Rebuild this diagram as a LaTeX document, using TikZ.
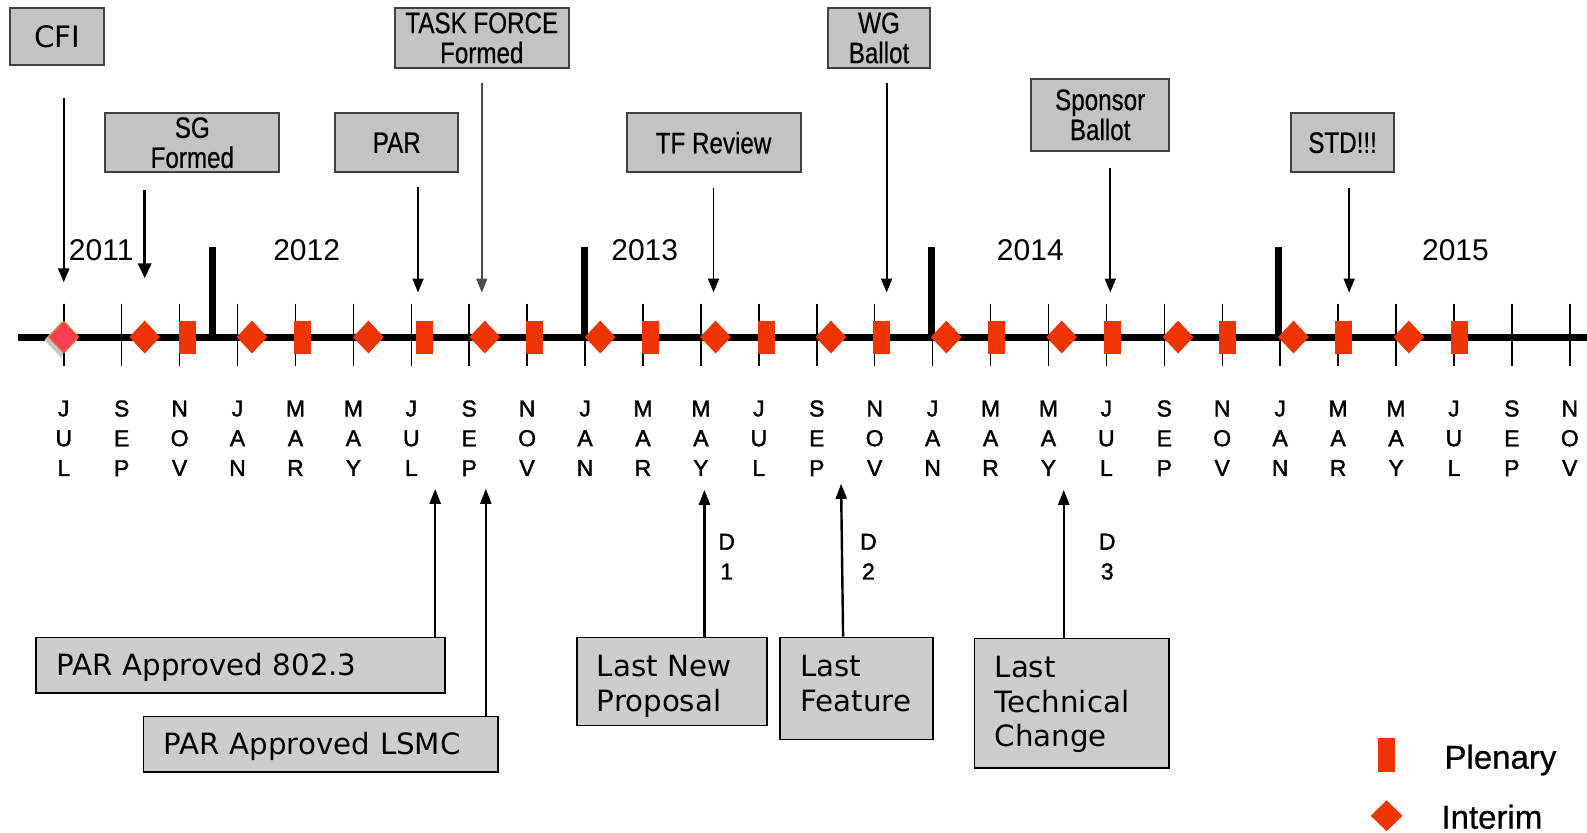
\documentclass[tikz,border=0pt]{standalone}
\usepackage{fontspec}
\setmainfont{Liberation Sans}
\newfontfamily\narrowfont[FakeStretch=0.82,FakeBold=0.6]{Liberation Sans}
\newfontfamily\monthfont[FakeBold=1.6]{Liberation Sans}
\newfontfamily\legendfont[FakeBold=0.7]{Liberation Sans}
\newfontfamily\dvfont{DejaVu Sans}
\usetikzlibrary{arrows.meta,shapes.geometric}
\definecolor{evred}{RGB}{238,52,0}
\definecolor{topgray}{RGB}{195,195,195}
\definecolor{botgray}{RGB}{205,205,205}
\definecolor{cfipink}{RGB}{250,62,85}
\definecolor{cfiedge}{RGB}{240,100,20}
\hyphenpenalty=10000
\exhyphenpenalty=10000
\begin{document}
\begin{tikzpicture}[x=1.0121pt,y=-1.0121pt,
  topbox/.style={draw=black!75, line width=2pt, fill=topgray, align=center, inner sep=0pt,
    font=\narrowfont\fontsize{29.5}{30}\selectfont},
  cfibox/.style={draw=black!75, line width=1.5pt, fill=topgray, align=center, inner sep=0pt,
    font=\dvfont\fontsize{29.5}{30}\selectfont},
  sz/.style 2 args={minimum width=#1*1.0121pt, minimum height=#2*1.0121pt},
  botbox/.style={draw=black, line width=1.6pt, fill=botgray, align=left, anchor=north west,
    inner ysep=0pt, inner xsep=20.24pt,
    font=\dvfont\fontsize{29.3}{34.5}\selectfont},
  dnarrow/.style={draw=black, line width=1.8pt, -{Triangle[length=14pt,width=11pt]}},
  uparrow/.style={draw=black, line width=2.4pt, -{Triangle[length=15pt,width=11pt]}},
  monthlab/.style={align=center, inner sep=0pt, font=\monthfont\fontsize{23}{29.8}\selectfont},
  yearlab/.style={inner sep=0pt, font=\fontsize{30}{30}\selectfont},
  tickline/.style={draw=black, line width=1.5pt},
  yearbar/.style={draw=black, line width=7pt},
  interim/.style={diamond, fill=evred, inner sep=0pt, minimum width=31pt, minimum height=33pt},
  plenary/.style={rectangle, fill=evred, inner sep=0pt, minimum width=17pt, minimum height=33.5pt},
  legendlab/.style={anchor=west, inner sep=0pt, font=\legendfont\fontsize{33}{33}\selectfont}
]
\useasboundingbox (0,0) rectangle (1568,823);
\fill[white] (0,0) rectangle (1568,823);

% ---- timeline ticks and month labels
\foreach \a/\b/\c [count=\i from 0] in {J/U/L,S/E/P,N/O/V,J/A/N,M/A/R,M/A/Y,J/U/L,S/E/P,N/O/V,
  J/A/N,M/A/R,M/A/Y,J/U/L,S/E/P,N/O/V,J/A/N,M/A/R,M/A/Y,J/U/L,S/E/P,N/O/V,
  J/A/N,M/A/R,M/A/Y,J/U/L,S/E/P,N/O/V}{
  \draw[tickline] (63+57.23*\i,300) -- (63+57.23*\i,362);
  \node[monthlab] (m\i) at (63+57.23*\i,433) {\a\\\b\\\c};
}

% ---- main line and year bars
\draw[draw=black, line width=7pt] (18,333) -- (1568,333);
\foreach \x in {210,577,920,1263}{
  \draw[yearbar] (\x,244) -- (\x,336);
}

% ---- year labels
\node[yearlab] (y2011) at (100,247) {2011};
\node[yearlab] (y2012) at (303,247) {2012};
\node[yearlab] (y2013) at (637,247) {2013};
\node[yearlab] (y2014) at (1018,247) {2014};
\node[yearlab] (y2015) at (1438,247) {2015};

% ---- meetings
\fill[gray!45] (60,318) -- (76,336) -- (60,353) -- (44,336) -- cycle;
\node[diamond, fill=cfipink, draw=cfiedge, line width=1.2pt, inner sep=0pt,
  minimum width=30pt, minimum height=32pt] (d0) at (63,333) {};
\draw[tickline] (63,300) -- (63,317);
\draw[tickline] (63,349) -- (63,362);
\foreach \x [count=\k] in {143,249,364,479,593,707,821,935,1049,1164,1278,1392}{
  \node[interim] (d\k) at (\x,333) {};
}
\foreach \x [count=\k] in {185,299,419,528,643,757,871,985,1099,1213,1327,1442}{
  \node[plenary] (p\k) at (\x,333.5) {};
}

% ---- top boxes
\node[cfibox, sz={93}{56}] (cfi) at (56.5,36) {CFI};
\node[topbox, sz={172}{58}] (sg) at (190,141) {SG\\Formed};
\node[topbox, sz={122}{58}] (par) at (392,141) {PAR};
\node[topbox, sz={172}{59}] (tf) at (476,37.5) {TASK FORCE\\Formed};
\node[topbox, sz={172}{58}] (tfr) at (705,141) {TF Review};
\node[topbox, sz={101}{59}] (wg) at (868.5,37.5) {WG\\Ballot};
\node[topbox, sz={136}{71}] (sp) at (1087,113.5) {Sponsor\\Ballot};
\node[topbox, sz={101}{58}] (std) at (1326.5,141) {STD!!!};

% ---- down arrows
\coordinate (cfiA) at (63,97);    \coordinate (cfiB) at (63,279);
\coordinate (sgA) at (143,188);   \coordinate (sgB) at (143,275);
\coordinate (parA) at (413,185);  \coordinate (parB) at (413,289);
\coordinate (tfA) at (476,82);    \coordinate (tfB) at (476,289);
\coordinate (tfrA) at (705,186);  \coordinate (tfrB) at (705,289);
\coordinate (wgA) at (876,82);    \coordinate (wgB) at (876,289);
\coordinate (spA) at (1097,166);  \coordinate (spB) at (1097,289);
\coordinate (stdA) at (1333,186); \coordinate (stdB) at (1333,289);
\draw[dnarrow, line width=2pt] (cfiA) -- (cfiB);
\draw[dnarrow, line width=3.5pt, -{Triangle[length=15pt,width=13pt]}] (sgA) -- (sgB);
\draw[dnarrow] (parA) -- (parB);
\draw[dnarrow, draw=black!70, line width=1.5pt] (tfA) -- (tfB);
\draw[dnarrow] (tfrA) -- (tfrB);
\draw[dnarrow] (wgA) -- (wgB);
\draw[dnarrow] (spA) -- (spB);
\draw[dnarrow] (stdA) -- (stdB);

% ---- bottom boxes
\node[botbox, text width=368.4pt, minimum height=55.7pt] (pa1) at (35,629) {\rule{0pt}{26pt}PAR Approved 802.3};
\node[botbox, text width=313.7pt, minimum height=55.7pt] (pa2) at (141,707) {\rule{0pt}{26pt}PAR Approved LSMC};
\node[botbox, text width=149.8pt, minimum height=88.1pt] (lnp) at (569,629) {\rule{0pt}{31pt}Last New\\Proposal};
\node[botbox, text width=112.3pt, minimum height=102.2pt] (lf) at (770,629) {Last\\Feature\rule[-10pt]{0pt}{10pt}};
\node[botbox, text width=153.8pt, minimum height=129.5pt] (ltc) at (962,630) {\rule{0pt}{24pt}Last\\Technical\\Change};

% ---- up arrows
\coordinate (pa1T) at (430,483);
\coordinate (pa2T) at (480,483);
\coordinate (lnpT) at (696,484);
\coordinate (lfT) at (831,478);
\coordinate (ltcT) at (1051,484);
\draw[uparrow] (pa1.north -| pa1T) -- (pa1T);
\draw[uparrow] (pa2.north -| pa2T) -- (pa2T);
\draw[uparrow] (lnp.north -| lnpT) -- (lnpT);
\draw[uparrow] (833,629) -- (lfT);
\draw[uparrow] (ltc.north -| ltcT) -- (ltcT);

% ---- D labels
\node[monthlab] (dl1) at (718,550) {D\\1};
\node[monthlab] (dl2) at (858,550) {D\\2};
\node[monthlab] (dl3) at (1094,550) {D\\3};

% ---- legend
\node[plenary] (lp) at (1370,746) {};
\node[interim, minimum width=32pt, minimum height=31pt] (li) at (1370,806) {};
\node[legendlab] (lpt) at (1427,751) {Plenary};
\node[legendlab] (lit) at (1424,807) {Interim};
\end{tikzpicture}
\end{document}
